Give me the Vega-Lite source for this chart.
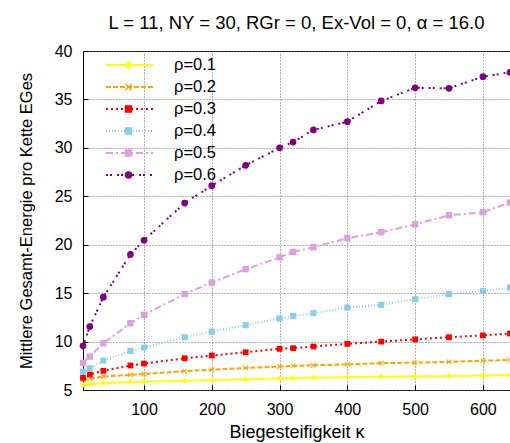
{
  "$schema": "https://vega.github.io/schema/vega-lite/v6.json",
  "autosize": {"type": "none"},
  "width": 427,
  "height": 339,
  "padding": {"left": 83, "top": 51, "right": 0, "bottom": 53},
  "background": "white",
  "config": {
    "font": "Liberation Sans",
    "view": {"stroke": "black", "strokeWidth": 1},
    "axis": {"labelFont": "Liberation Sans", "titleFont": "Liberation Sans", "labelColor": "black", "titleColor": "black", "titleFontWeight": "normal", "domain": false, "tickColor": "black", "gridColor": "#666", "gridDash": [1, 2], "gridWidth": 1}
  },
  "title": {"text": "L = 11, NY = 30, RGr = 0, Ex-Vol = 0, α = 16.0", "fontSize": 18.5, "fontWeight": "normal", "font": "Liberation Sans", "anchor": "middle", "offset": 11, "color": "black"},
  "data": {"values": [
    {"k":10,"rho":"ρ=0.1","E":5.55},{"k":20,"rho":"ρ=0.1","E":5.6},{"k":40,"rho":"ρ=0.1","E":5.7},{"k":80,"rho":"ρ=0.1","E":5.82},{"k":100,"rho":"ρ=0.1","E":5.86},{"k":160,"rho":"ρ=0.1","E":5.95},{"k":200,"rho":"ρ=0.1","E":6.02},{"k":250,"rho":"ρ=0.1","E":6.1},{"k":300,"rho":"ρ=0.1","E":6.2},{"k":320,"rho":"ρ=0.1","E":6.22},{"k":350,"rho":"ρ=0.1","E":6.27},{"k":400,"rho":"ρ=0.1","E":6.33},{"k":450,"rho":"ρ=0.1","E":6.36},{"k":500,"rho":"ρ=0.1","E":6.4},{"k":550,"rho":"ρ=0.1","E":6.44},{"k":600,"rho":"ρ=0.1","E":6.5},{"k":640,"rho":"ρ=0.1","E":6.53},
    {"k":10,"rho":"ρ=0.2","E":6.05},{"k":20,"rho":"ρ=0.2","E":6.15},{"k":40,"rho":"ρ=0.2","E":6.39},{"k":80,"rho":"ρ=0.2","E":6.56},{"k":100,"rho":"ρ=0.2","E":6.65},{"k":160,"rho":"ρ=0.2","E":6.95},{"k":200,"rho":"ρ=0.2","E":7.1},{"k":250,"rho":"ρ=0.2","E":7.28},{"k":300,"rho":"ρ=0.2","E":7.42},{"k":320,"rho":"ρ=0.2","E":7.49},{"k":350,"rho":"ρ=0.2","E":7.56},{"k":400,"rho":"ρ=0.2","E":7.64},{"k":450,"rho":"ρ=0.2","E":7.77},{"k":500,"rho":"ρ=0.2","E":7.83},{"k":550,"rho":"ρ=0.2","E":7.9},{"k":600,"rho":"ρ=0.2","E":8.02},{"k":640,"rho":"ρ=0.2","E":8.1},
    {"k":10,"rho":"ρ=0.3","E":6.25},{"k":20,"rho":"ρ=0.3","E":6.6},{"k":40,"rho":"ρ=0.3","E":6.98},{"k":80,"rho":"ρ=0.3","E":7.53},{"k":100,"rho":"ρ=0.3","E":7.73},{"k":160,"rho":"ρ=0.3","E":8.28},{"k":200,"rho":"ρ=0.3","E":8.56},{"k":250,"rho":"ρ=0.3","E":8.9},{"k":300,"rho":"ρ=0.3","E":9.25},{"k":320,"rho":"ρ=0.3","E":9.32},{"k":350,"rho":"ρ=0.3","E":9.49},{"k":400,"rho":"ρ=0.3","E":9.76},{"k":450,"rho":"ρ=0.3","E":10.0},{"k":500,"rho":"ρ=0.3","E":10.23},{"k":550,"rho":"ρ=0.3","E":10.45},{"k":600,"rho":"ρ=0.3","E":10.64},{"k":640,"rho":"ρ=0.3","E":10.83},
    {"k":10,"rho":"ρ=0.4","E":6.9},{"k":20,"rho":"ρ=0.4","E":7.25},{"k":40,"rho":"ρ=0.4","E":8.04},{"k":80,"rho":"ρ=0.4","E":9.04},{"k":100,"rho":"ρ=0.4","E":9.38},{"k":160,"rho":"ρ=0.4","E":10.45},{"k":200,"rho":"ρ=0.4","E":11.03},{"k":250,"rho":"ρ=0.4","E":11.69},{"k":300,"rho":"ρ=0.4","E":12.38},{"k":320,"rho":"ρ=0.4","E":12.65},{"k":350,"rho":"ρ=0.4","E":12.93},{"k":400,"rho":"ρ=0.4","E":13.51},{"k":450,"rho":"ρ=0.4","E":13.79},{"k":500,"rho":"ρ=0.4","E":14.38},{"k":550,"rho":"ρ=0.4","E":14.9},{"k":600,"rho":"ρ=0.4","E":15.23},{"k":640,"rho":"ρ=0.4","E":15.57},
    {"k":10,"rho":"ρ=0.5","E":7.8},{"k":20,"rho":"ρ=0.5","E":8.45},{"k":40,"rho":"ρ=0.5","E":9.83},{"k":80,"rho":"ρ=0.5","E":11.9},{"k":100,"rho":"ρ=0.5","E":12.76},{"k":160,"rho":"ρ=0.5","E":14.9},{"k":200,"rho":"ρ=0.5","E":16.1},{"k":250,"rho":"ρ=0.5","E":17.47},{"k":300,"rho":"ρ=0.5","E":18.7},{"k":320,"rho":"ρ=0.5","E":19.26},{"k":350,"rho":"ρ=0.5","E":19.74},{"k":400,"rho":"ρ=0.5","E":20.67},{"k":450,"rho":"ρ=0.5","E":21.29},{"k":500,"rho":"ρ=0.5","E":22.1},{"k":550,"rho":"ρ=0.5","E":23.04},{"k":600,"rho":"ρ=0.5","E":23.35},{"k":640,"rho":"ρ=0.5","E":24.35},
    {"k":10,"rho":"ρ=0.6","E":9.56},{"k":20,"rho":"ρ=0.6","E":11.55},{"k":40,"rho":"ρ=0.6","E":14.58},{"k":80,"rho":"ρ=0.6","E":19.0},{"k":100,"rho":"ρ=0.6","E":20.46},{"k":160,"rho":"ρ=0.6","E":24.3},{"k":200,"rho":"ρ=0.6","E":26.1},{"k":250,"rho":"ρ=0.6","E":28.2},{"k":300,"rho":"ρ=0.6","E":30.0},{"k":320,"rho":"ρ=0.6","E":30.6},{"k":350,"rho":"ρ=0.6","E":31.85},{"k":400,"rho":"ρ=0.6","E":32.7},{"k":450,"rho":"ρ=0.6","E":34.84},{"k":500,"rho":"ρ=0.6","E":36.2},{"k":550,"rho":"ρ=0.6","E":36.15},{"k":600,"rho":"ρ=0.6","E":37.35},{"k":640,"rho":"ρ=0.6","E":37.8}
  ]},
  "encoding": {
    "x": {"field": "k", "type": "quantitative", "scale": {"domain": [10, 640], "nice": false, "zero": false},
      "axis": {"title": "Biegesteifigkeit κ", "values": [100, 200, 300, 400, 500, 600], "grid": true, "labelFontSize": 16, "titleFontSize": 18, "tickSize": -5, "labelPadding": 16, "titlePadding": 6, "labelFlush": false}},
    "y": {"field": "E", "type": "quantitative", "scale": {"domain": [5, 40], "nice": false, "zero": false},
      "axis": {"title": "Mittlere Gesamt-Energie pro Kette EGes", "values": [5, 10, 15, 20, 25, 30, 35, 40], "grid": true, "labelFontSize": 16, "titleFontSize": 16.5, "tickSize": -5, "labelPadding": 16, "titlePadding": 20, "labelFlush": false}}
  },
  "layer": [
    {
      "mark": {"type": "line", "strokeWidth": 2, "clip": false},
      "encoding": {
        "color": {"field": "rho", "type": "nominal", "scale": {"range": ["#ffff00", "#ffa500", "#ff0000", "#87ceeb", "#dda0dd", "#800080"]},
          "legend": {"orient": "none", "legendX": 22, "legendY": 3.25, "title": null, "symbolType": "stroke", "symbolSize": 2209, "symbolStrokeWidth": 2, "labelFontSize": 16.5, "labelFont": "Liberation Sans", "labelColor": "black", "labelOffset": 20, "rowPadding": 0, "clipHeight": 21.5, "padding": 0}},
        "strokeDash": {"field": "rho", "type": "nominal", "scale": {"range": [[1, 0], [5, 2], [2, 3], [1, 2], [7, 3, 2, 3], [2, 2, 2, 5]]},
          "legend": {"orient": "none", "legendX": 22, "legendY": 3.25, "title": null, "symbolType": "stroke", "symbolSize": 2209, "symbolStrokeWidth": 2, "labelFontSize": 16.5, "labelFont": "Liberation Sans", "labelColor": "black", "labelOffset": 20, "rowPadding": 0, "clipHeight": 21.5, "padding": 0}}
      }
    },
    {
      "mark": {"type": "point", "filled": true, "opacity": 1, "clip": false},
      "encoding": {
        "fill": {"field": "rho", "type": "nominal", "scale": {"domain": ["ρ=0.1", "ρ=0.2", "ρ=0.3", "ρ=0.4", "ρ=0.5", "ρ=0.6"], "range": ["#ffff00", "#ffa500", "#ff0000", "#87ceeb", "#dda0dd", "#800080"]},
          "legend": {"orient": "none", "legendX": 37.5, "legendY": 3.25, "title": null, "labelFontSize": 16, "labelExpr": "''", "rowPadding": 0, "clipHeight": 21.5, "padding": 0, "symbolSize": 55, "symbolOpacity": 1, "symbolStrokeWidth": 0}},
        "shape": {"field": "rho", "type": "nominal", "scale": {"domain": ["ρ=0.1", "ρ=0.2", "ρ=0.3", "ρ=0.4", "ρ=0.5", "ρ=0.6"], "range": ["cross", "M-0.75,-1L0,-0.25L0.75,-1L1,-0.75L0.25,0L1,0.75L0.75,1L0,0.25L-0.75,1L-1,0.75L-0.25,0L-1,-0.75Z", "square", "square", "square", "circle"]},
          "legend": {"orient": "none", "legendX": 37.5, "legendY": 3.25, "title": null, "labelFontSize": 16, "labelExpr": "''", "rowPadding": 0, "clipHeight": 21.5, "padding": 0, "symbolSize": 55, "symbolOpacity": 1, "symbolStrokeWidth": 0}},
        "size": {"field": "rho", "type": "nominal", "legend": null, "scale": {"range": [25, 45, 36, 64, 38, 64]}}
      }
    }
  ]
}
